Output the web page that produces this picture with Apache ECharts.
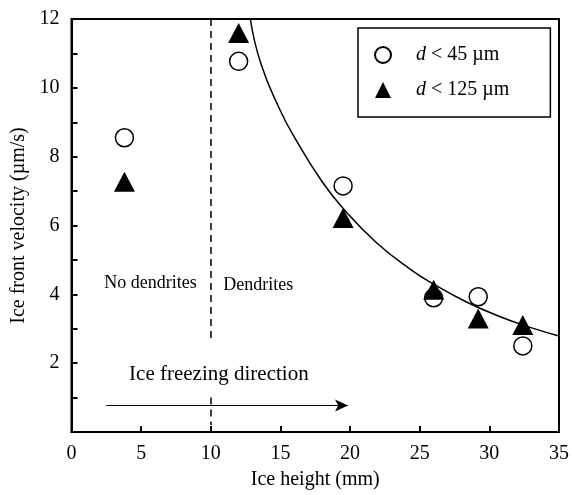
<!DOCTYPE html>
<html>
<head>
<meta charset="utf-8">
<script src="https://cdn.jsdelivr.net/npm/echarts@6/dist/echarts.min.js"></script>
<style>
  html, body { margin: 0; padding: 0; background: #fff; }
  #chart { width: 572px; height: 495px; }
</style>
</head>
<body>
<div id="chart"></div>
<script>
// data
const smallX = [3.8, 12.0, 19.5, 26.0, 29.2, 32.4];
const smallY = [8.55, 10.77, 7.15, 3.9, 3.93, 2.5];
const largeX = [3.8, 12.0, 19.5, 26.0, 29.2, 32.4];
const largeY = [7.27, 11.59, 6.22, 4.13, 3.3, 3.11];
// fitted curve
const fitX = [12.84, 13.6, 14.98, 16.17, 17.95, 19.49, 21.9, 24.36, 26.03, 28.4, 30.78, 33.16, 35];
const fitY = [12.0, 10.7, 9.35, 8.45, 7.3, 6.5, 5.5, 4.72, 4.29, 3.77, 3.35, 3.01, 2.79];
const xTicks = [0, 5, 10, 15, 20, 25, 30, 35];
const yTicks = [2, 4, 6, 8, 10, 12];

const font = "Liberation Serif";

function pairs(xs, ys) {
  return xs.map((x, i) => [x, ys[i]]);
}

const chart = echarts.init(document.getElementById("chart"));

chart.setOption({
  animation: false,
  textStyle: { fontFamily: font, color: "#000" },
  grid: {
    left: 71.5, right: 9.5, top: 19, bottom: 63,
    show: true, borderColor: "#000", borderWidth: 2
  },
  legend: {
    orient: "vertical",
    left: 358, top: 28,
    borderColor: "#000", borderWidth: 1.5,
    padding: [15, 41, 15, 16],
    itemGap: 11,
    itemWidth: 16, itemHeight: 16,
    formatter: name => name.replace("d", "{i|d}"),
    textStyle: {
      fontFamily: font, fontSize: 20, lineHeight: 24, color: "#000",
      padding: [0, 0, 0, 20],
      rich: { i: { fontStyle: "italic", fontFamily: font, fontSize: 20 } }
    },
    data: ["d < 45 µm", "d < 125 µm"]
  },
  xAxis: {
    type: "value", min: 0, max: 35, interval: 5,
    name: "Ice height (mm)", nameLocation: "middle", nameGap: 38,
    nameTextStyle: { fontFamily: font, fontSize: 20, color: "#000" },
    axisLine: { lineStyle: { color: "#000", width: 2 } },
    axisTick: { inside: true, length: 6, lineStyle: { color: "#000", width: 2 } },
    axisLabel: {
      fontFamily: font, fontSize: 20, color: "#000", margin: 12,
      formatter: v => xTicks.includes(v) ? String(v) : ""
    },
    splitLine: { show: false }
  },
  yAxis: {
    type: "value", min: 0, max: 12, interval: 2,
    name: "Ice front velocity (µm/s)", nameLocation: "middle", nameGap: 40,
    nameTextStyle: { fontFamily: font, fontSize: 20, color: "#000" },
    axisLine: { lineStyle: { color: "#000", width: 2 } },
    axisTick: { inside: true, length: 6, lineStyle: { color: "#000", width: 2 } },
    minorTick: { show: true, splitNumber: 2, length: 6, lineStyle: { color: "#000", width: 2 } },
    axisLabel: {
      fontFamily: font, fontSize: 20, color: "#000", margin: 12,
      formatter: v => yTicks.includes(v) ? String(v) : ""
    },
    splitLine: { show: false }
  },
  series: [
    {
      name: "fit",
      type: "line",
      data: pairs(fitX, fitY),
      smooth: true,
      showSymbol: false,
      lineStyle: { color: "#000", width: 1.5 },
      silent: true,
      markLine: {
        silent: true,
        symbol: "none",
        label: { show: false },
        lineStyle: { color: "#000", width: 1.5, type: [7, 5] },
        data: [
          [{ coord: [10, 12] }, { coord: [10, 2.6] }],
          [{ coord: [10, 1.0] }, { coord: [10, 0.2] }],
          [
            { coord: [2.5, 0.77], symbol: "none", lineStyle: { type: "solid", width: 1.2 } },
            { coord: [19.85, 0.77], symbol: "arrow", symbolSize: [9, 13] }
          ]
        ]
      },
      markPoint: {
        silent: true,
        symbol: "circle",
        symbolSize: 0,
        label: { show: true, position: "inside", fontFamily: font, color: "#000", fontSize: 18 },
        data: [
          { coord: [5.67, 4.33], value: "No dendrites", label: { formatter: "No dendrites" } },
          { coord: [13.4, 4.27], value: "Dendrites", label: { formatter: "Dendrites" } },
          { coord: [10.58, 1.66], value: "Ice freezing direction",
            label: { formatter: "Ice freezing direction", fontSize: 21 } }
        ]
      }
    },
    {
      name: "d < 45 µm",
      type: "scatter",
      data: pairs(smallX, smallY),
      symbol: "circle",
      symbolSize: 18,
      itemStyle: { color: "#fff", borderColor: "#000", borderWidth: 1.5, opacity: 1 },
      z: 3
    },
    {
      name: "d < 125 µm",
      type: "scatter",
      data: pairs(largeX, largeY),
      symbol: "triangle",
      symbolSize: [21, 20],
      itemStyle: { color: "#000", opacity: 1 },
      z: 4
    }
  ]
});
</script>
</body>
</html>
